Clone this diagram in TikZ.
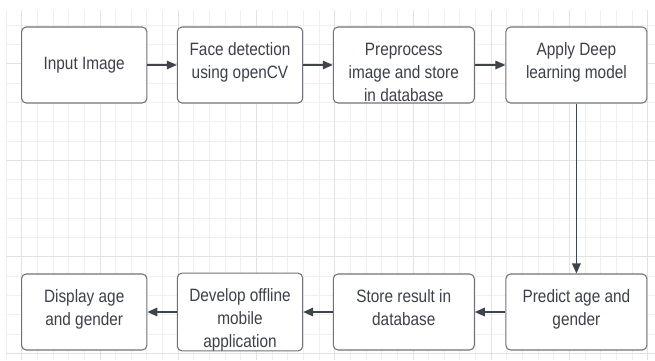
\documentclass[tikz,border=0pt]{standalone}
\usepackage{fontspec}
\setmainfont[FakeStretch=0.86]{Liberation Sans}
\usetikzlibrary{arrows.meta}
\definecolor{boxline}{HTML}{6E7278}
\definecolor{txt}{HTML}{3C4048}
\definecolor{arr}{HTML}{3F444B}
\definecolor{gridminor}{HTML}{EFEFEF}
\definecolor{gridmajor}{HTML}{E2E2E2}
% struts to nudge the text block down (three lines) or up (two lines)
\newcommand{\padtop}{\rule{0pt}{21pt}}
\newcommand{\padbot}{\rule[-7pt]{0pt}{7pt}}
\begin{document}
\begin{tikzpicture}[x=0.75pt,y=-0.75pt,
    stage/.style={draw=boxline,line width=0.8pt,rounded corners=3.5pt,fill=white,
      minimum height=57pt,inner ysep=0pt,align=center,text=txt,
      font=\fontsize{13.4}{17.25}\selectfont},
    narrow/.style={stage,minimum width=94pt},
    wide/.style={stage,minimum width=105.75pt},
    flow/.style={-{Triangle[length=7.5pt,width=6.5pt]},draw=arr,line width=0.8pt}]
  \useasboundingbox (0,0) rectangle (655,360);
  % background grid
  \foreach \i in {0,...,41}
    \draw[gridminor,line width=0.6pt] ({6+15.65*\i},10) -- ({6+15.65*\i},360);
  \foreach \j in {1,...,18}
    \draw[gridminor,line width=0.6pt] (6,{5.8+19.3*\j}) -- (655,{5.8+19.3*\j});
  \foreach \i in {1,6,...,41}
    \draw[gridmajor,line width=0.6pt] ({6+15.65*\i},10) -- ({6+15.65*\i},360);
  \foreach \j in {3,8,13,18}
    \draw[gridmajor,line width=0.6pt] (6,{5.8+19.3*\j}) -- (655,{5.8+19.3*\j});
  % stages
  \draw
    (84.2,65) node[narrow] (input){Input Image}
    (240,65) node[narrow] (face){Face detection\\using openCV\padbot}
    (403.8,65) node[wide] (prep){\padtop Preprocess\\image and store\\in database}
    (576.4,65) node[wide] (model){Apply Deep\\learning model\padbot}
    (576.4,312) node[wide] (predict){Predict age and\\gender\padbot}
    (403.8,312) node[wide] (store){Store result in\\database\padbot}
    (240,312) node[narrow] (app){\padtop Develop offline\\mobile\\application}
    (84.2,312) node[narrow] (show){Display age\\and gender\padbot};
  \begin{scope}[flow]
    \draw (input) to (face);
    \draw (face) to (prep);
    \draw (prep) to (model);
    \draw (model) to (predict);
    \draw (predict) to (store);
    \draw (store) to (app);
    \draw (app) to (show);
  \end{scope}
\end{tikzpicture}
\end{document}
